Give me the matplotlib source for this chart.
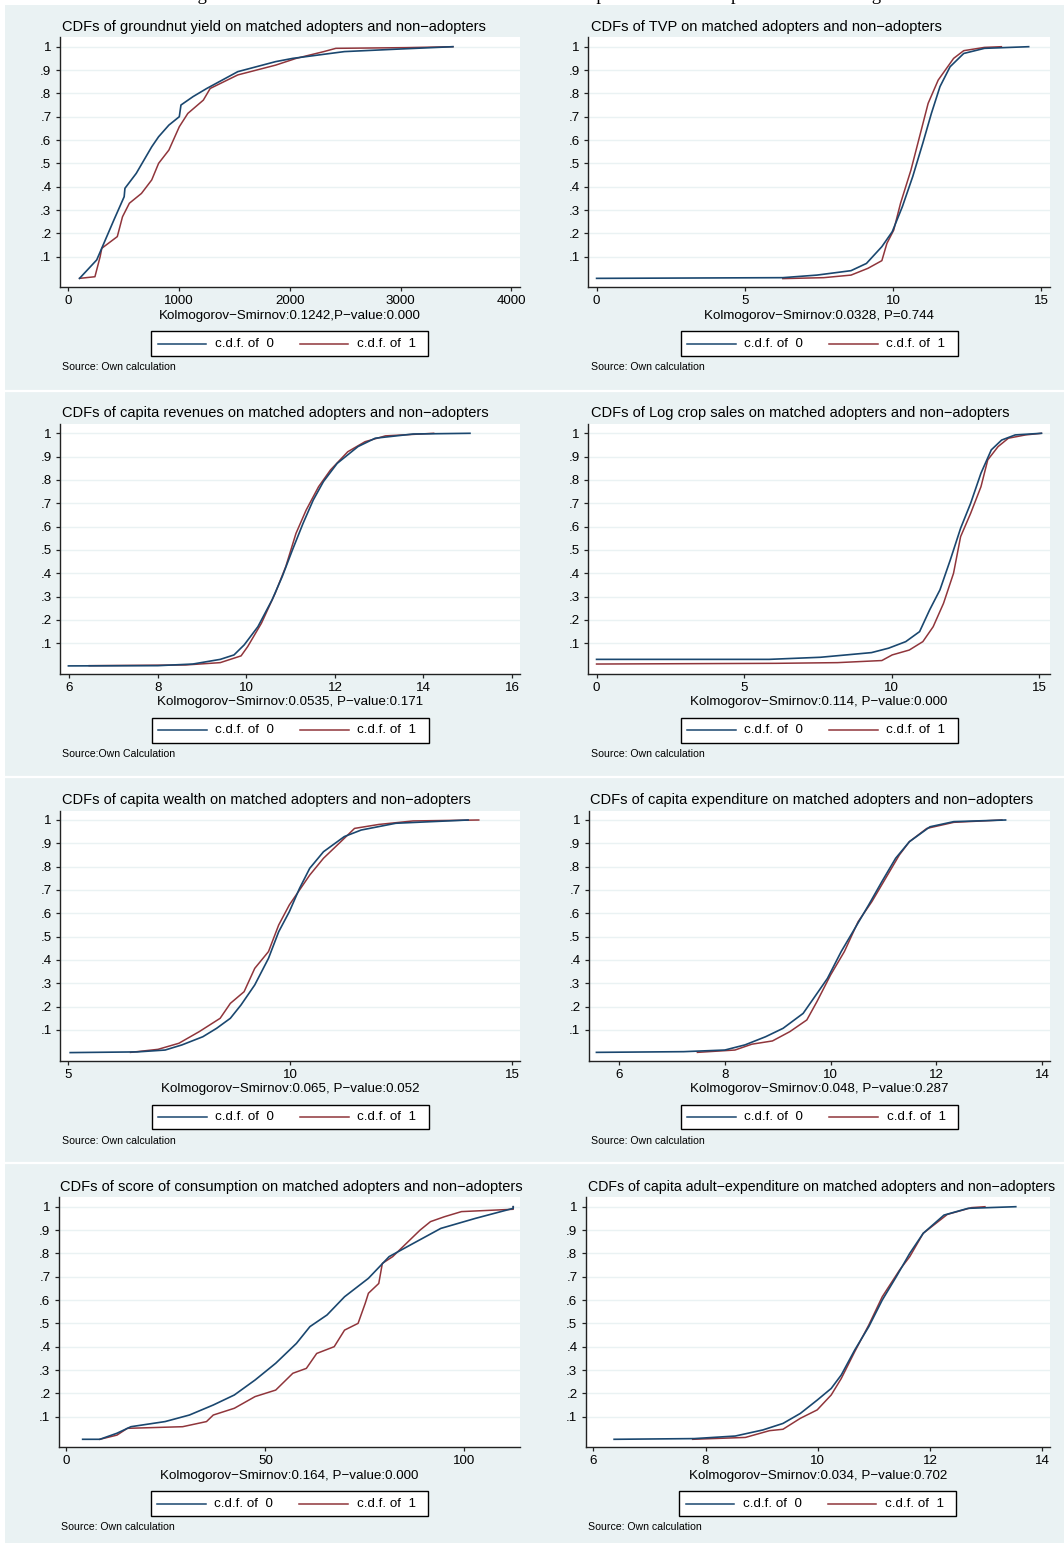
import matplotlib
matplotlib.use("Agg")
import matplotlib.pyplot as plt
from matplotlib.patches import Rectangle
from matplotlib.lines import Line2D

W, H = 1064, 1543
BG = "#EAF2F3"
C0 = "#1A476F"
C1 = "#90353B"
FONT = ["Liberation Sans", "DejaVu Sans"]
plt.rcParams["font.family"] = FONT

# ---------------- data ----------------
yield_x0 = [100, 255, 286, 410, 503, 510, 612, 752, 814, 907, 1001, 1016, 1125, 1249, 1529, 1871, 2026, 2492, 2990, 3472]
yield_F0 = [0.007, 0.086, 0.12, 0.257, 0.357, 0.393, 0.457, 0.571, 0.614, 0.664, 0.70, 0.75, 0.786, 0.821, 0.893, 0.936, 0.95, 0.979, 0.99, 1.0]
yield_x1 = [100, 239, 286, 301, 441, 488, 550, 659, 752, 814, 907, 1001, 1078, 1218, 1280, 1529, 1871, 2057, 2306, 2415, 3052, 3472]
yield_F1 = [0.007, 0.014, 0.10, 0.136, 0.186, 0.271, 0.329, 0.371, 0.429, 0.50, 0.557, 0.657, 0.714, 0.771, 0.821, 0.879, 0.921, 0.95, 0.979, 0.993, 0.996, 1.0]

tvp_x0 = [0, 6.28, 7.43, 8.58, 9.10, 9.62, 9.97, 10.31, 10.66, 11.00, 11.29, 11.58, 11.92, 12.38, 13.08, 14.57]
tvp_F0 = [0.007, 0.010, 0.021, 0.040, 0.071, 0.143, 0.207, 0.314, 0.443, 0.586, 0.714, 0.829, 0.914, 0.971, 0.993, 1.0]
tvp_x1 = [6.28, 7.66, 8.58, 9.15, 9.62, 9.79, 10.02, 10.25, 10.60, 10.89, 11.18, 11.52, 12.04, 12.38, 13.08, 13.65]
tvp_F1 = [0.006, 0.010, 0.021, 0.050, 0.083, 0.157, 0.214, 0.329, 0.471, 0.614, 0.757, 0.857, 0.950, 0.983, 0.997, 1.0]

rev_x0 = [5.98, 8.00, 8.79, 9.41, 9.72, 9.95, 10.26, 10.58, 10.81, 11.04, 11.28, 11.51, 11.74, 12.05, 12.52, 12.91, 13.77, 15.05]
rev_F0 = [0.003, 0.004, 0.011, 0.031, 0.050, 0.093, 0.171, 0.286, 0.386, 0.50, 0.614, 0.714, 0.793, 0.871, 0.943, 0.979, 0.997, 1.0]
rev_x1 = [6.45, 8.63, 9.41, 9.88, 10.03, 10.34, 10.65, 10.89, 11.12, 11.35, 11.63, 11.90, 12.29, 12.68, 13.14, 14.23]
rev_F1 = [0.004, 0.007, 0.017, 0.046, 0.086, 0.186, 0.314, 0.429, 0.571, 0.671, 0.771, 0.843, 0.921, 0.964, 0.989, 1.0]

sales_x0 = [0, 5.85, 7.59, 9.32, 9.90, 10.48, 10.95, 11.29, 11.64, 11.99, 12.34, 12.68, 13.03, 13.38, 13.73, 14.19, 15.08]
sales_F0 = [0.031, 0.031, 0.040, 0.060, 0.079, 0.107, 0.150, 0.243, 0.329, 0.457, 0.593, 0.70, 0.829, 0.929, 0.971, 0.993, 1.0]
sales_x1 = [0, 6.08, 8.17, 9.67, 10.02, 10.60, 11.06, 11.41, 11.76, 12.10, 12.34, 12.68, 13.03, 13.26, 13.61, 13.96, 14.54, 15.08]
sales_F1 = [0.011, 0.014, 0.017, 0.026, 0.050, 0.071, 0.107, 0.171, 0.271, 0.40, 0.557, 0.657, 0.771, 0.886, 0.943, 0.979, 0.993, 1.0]

wealth_x0 = [5.04, 6.55, 7.18, 7.56, 8.03, 8.34, 8.65, 8.89, 9.20, 9.51, 9.74, 9.98, 10.21, 10.44, 10.75, 11.22, 11.60, 12.38, 14.01]
wealth_F0 = [0.003, 0.006, 0.014, 0.036, 0.071, 0.107, 0.150, 0.207, 0.293, 0.407, 0.521, 0.607, 0.707, 0.793, 0.864, 0.929, 0.957, 0.986, 1.0]
wealth_x1 = [6.40, 7.02, 7.49, 7.95, 8.42, 8.65, 8.96, 9.20, 9.51, 9.74, 9.98, 10.21, 10.44, 10.75, 11.14, 11.45, 12.00, 12.77, 14.25]
wealth_F1 = [0.004, 0.017, 0.043, 0.093, 0.150, 0.214, 0.264, 0.364, 0.436, 0.550, 0.636, 0.70, 0.764, 0.836, 0.907, 0.964, 0.981, 0.996, 1.0]

exp_x0 = [5.57, 7.22, 8.00, 8.38, 8.77, 9.10, 9.48, 9.68, 9.94, 10.20, 10.46, 10.72, 10.97, 11.23, 11.49, 11.88, 12.33, 13.31]
exp_F0 = [0.004, 0.007, 0.014, 0.036, 0.071, 0.107, 0.171, 0.236, 0.321, 0.436, 0.536, 0.636, 0.736, 0.836, 0.907, 0.971, 0.993, 1.0]
exp_x1 = [7.48, 8.19, 8.51, 8.90, 9.23, 9.55, 9.74, 10.00, 10.26, 10.52, 10.78, 11.04, 11.30, 11.49, 11.82, 12.33, 13.24]
exp_F1 = [0.004, 0.014, 0.039, 0.053, 0.093, 0.143, 0.221, 0.336, 0.436, 0.564, 0.650, 0.750, 0.850, 0.907, 0.964, 0.990, 1.0]

cons_x0 = [4.07, 8.4, 12.7, 16.2, 24.8, 30.9, 36.9, 42.2, 47.4, 52.6, 57.8, 61.2, 65.5, 69.9, 75.9, 81.1, 87.2, 94.1, 102.8, 112.3, 112.3]
cons_F0 = [0.003, 0.003, 0.029, 0.057, 0.079, 0.107, 0.150, 0.193, 0.257, 0.329, 0.414, 0.486, 0.536, 0.614, 0.693, 0.786, 0.843, 0.907, 0.950, 0.993, 1.0]
cons_x1 = [8.4, 12.7, 15.3, 29.2, 35.2, 36.9, 42.2, 47.4, 52.6, 56.9, 60.3, 62.9, 67.3, 69.9, 73.3, 75.1, 75.9, 78.5, 79.4, 82.0, 84.6, 88.9, 91.5, 95.0, 99.3, 112.3, 112.3]
cons_F1 = [0.003, 0.021, 0.050, 0.057, 0.079, 0.107, 0.136, 0.186, 0.214, 0.286, 0.307, 0.371, 0.40, 0.471, 0.50, 0.586, 0.629, 0.671, 0.757, 0.786, 0.829, 0.90, 0.936, 0.957, 0.979, 0.989, 1.0]

adexp_x0 = [6.37, 7.80, 8.53, 9.02, 9.38, 9.69, 9.99, 10.24, 10.42, 10.66, 10.91, 11.15, 11.40, 11.64, 11.88, 12.25, 12.68, 13.53]
adexp_F0 = [0.003, 0.006, 0.017, 0.043, 0.071, 0.114, 0.171, 0.221, 0.279, 0.386, 0.486, 0.60, 0.70, 0.80, 0.886, 0.964, 0.993, 1.0]
adexp_x1 = [7.77, 8.71, 9.14, 9.38, 9.69, 9.99, 10.24, 10.42, 10.66, 10.91, 11.15, 11.46, 11.64, 11.88, 12.31, 12.74, 12.98]
adexp_F1 = [0.003, 0.011, 0.040, 0.046, 0.093, 0.129, 0.193, 0.264, 0.379, 0.493, 0.614, 0.729, 0.786, 0.886, 0.967, 0.996, 1.0]

titles = [
    "CDFs of groundnut yield on matched adopters and non\u2212adopters",
    "CDFs of TVP on matched adopters and non\u2212adopters",
    "CDFs of capita revenues on matched adopters and non\u2212adopters",
    "CDFs of Log crop sales on matched adopters and non\u2212adopters",
    "CDFs of capita wealth on matched adopters and non\u2212adopters",
    "CDFs of capita expenditure on matched adopters and non\u2212adopters",
    "CDFs of score of consumption on matched adopters and non\u2212adopters",
    "CDFs of capita adult\u2212expenditure on matched adopters and non\u2212adopters",
]
title_sizes = [10.5, 10.5, 10.5, 10.5, 10.5, 10.5, 10.5, 10.15]
ks_labels = [
    "Kolmogorov\u2212Smirnov:0.1242,P\u2212value:0.000",
    "Kolmogorov\u2212Smirnov:0.0328, P=0.744",
    "Kolmogorov\u2212Smirnov:0.0535, P\u2212value:0.171",
    "Kolmogorov\u2212Smirnov:0.114, P\u2212value:0.000",
    "Kolmogorov\u2212Smirnov:0.065, P\u2212value:0.052",
    "Kolmogorov\u2212Smirnov:0.048, P\u2212value:0.287",
    "Kolmogorov\u2212Smirnov:0.164, P\u2212value:0.000",
    "Kolmogorov\u2212Smirnov:0.034, P\u2212value:0.702",
]
sources = [
    "Source: Own calculation", "Source: Own calculation",
    "Source:Own Calculation", "Source: Own calculation",
    "Source: Own calculation", "Source: Own calculation",
    "Source: Own calculation", "Source: Own calculation",
]
xticks_list = [
    [0, 1000, 2000, 3000, 4000],
    [0, 5, 10, 15],
    [6, 8, 10, 12, 14, 16],
    [0, 5, 10, 15],
    [5, 10, 15],
    [6, 8, 10, 12, 14],
    [0, 50, 100],
    [6, 8, 10, 12, 14],
]
xlims = [(-81, 4078), (-0.29, 15.29), (5.79, 16.18), (-0.29, 15.37),
         (4.81, 15.18), (5.42, 14.15), (-2.0, 114.0), (5.86, 14.14)]
yticks = [0.1, 0.2, 0.3, 0.4, 0.5, 0.6, 0.7, 0.8, 0.9, 1.0]
ytick_labels = [".1", ".2", ".3", ".4", ".5", ".6", ".7", ".8", ".9", "1"]
legend_labels = ["c.d.f. of  0", "c.d.f. of  1"]

series = [
    (yield_x0, yield_F0, yield_x1, yield_F1),
    (tvp_x0, tvp_F0, tvp_x1, tvp_F1),
    (rev_x0, rev_F0, rev_x1, rev_F1),
    (sales_x0, sales_F0, sales_x1, sales_F1),
    (wealth_x0, wealth_F0, wealth_x1, wealth_F1),
    (exp_x0, exp_F0, exp_x1, exp_F1),
    (cons_x0, cons_F0, cons_x1, cons_F1),
    (adexp_x0, adexp_F0, adexp_x1, adexp_F1),
]

# ---------------- layout (pixels) ----------------
Y1 = [46.7, 433.3, 820.0, 1206.7]      # pixel row of F = 1 for each row
AX_X = [(59.5, 520), (588, 1050), (60, 520), (588, 1050),
        (60, 520), (588.5, 1050), (58.5, 520), (585.5, 1050)]
TITLE_X = [62, 591, 62, 591, 62, 590, 60.5, 587.5]
SRC_X = [62, 591, 62, 591, 62, 591, 61, 588]
YLO, YHI = -0.031, 1.040
PPU = 233.3  # pixels per unit F

fig = plt.figure(figsize=(W / 100, H / 100), dpi=100, facecolor="white")

def fx(px):
    return px / W

def fy(py):
    return 1 - py / H

# background panel and separators
fig.patches.append(Rectangle((fx(5), 0), 1 - fx(5), fy(5), transform=fig.transFigure,
                             facecolor=BG, edgecolor="none", zorder=-10))
for sep in [391, 777.3, 1163.3]:
    fig.add_artist(Line2D([fx(5), 1], [fy(sep), fy(sep)], color="white", lw=1.6,
                          transform=fig.transFigure))

# figure caption, cut off at the top edge as in the original
fig.text(0.5, 1.0, "Figure 3: Cumulative distributions of outcomes for adopters and non-adopters after matching",
         ha="center", va="baseline", fontsize=13.5, family=["Liberation Serif", "DejaVu Serif"])

for i in range(8):
    row = i // 2
    y1 = Y1[row]
    top = y1 - (YHI - 1) * PPU
    bot = y1 + (1 - YLO) * PPU
    x0, x1 = AX_X[i]
    ax = fig.add_axes([fx(x0), fy(bot), fx(x1) - fx(x0), fy(top) - fy(bot)])
    ax.set_facecolor("white")
    ax.set_xlim(*xlims[i])
    ax.set_ylim(YLO, YHI)
    for s in ["top", "right"]:
        ax.spines[s].set_visible(False)
    for s in ["left", "bottom"]:
        ax.spines[s].set_color("#222222")
        ax.spines[s].set_linewidth(1.0)
    ax.set_yticks(yticks)
    ax.set_yticklabels(ytick_labels)
    ax.set_xticks(xticks_list[i])
    ax.set_xticklabels([str(t) for t in xticks_list[i]])
    ax.tick_params(axis="both", direction="out", length=3.2, width=0.9, color="#222222",
                   labelsize=9.6, pad=2.6)
    ax.grid(axis="y", color=BG, lw=1.0)
    ax.set_axisbelow(True)
    xa, Fa, xb, Fb = series[i]
    ax.plot(xa, Fa, color=C0, lw=1.2, zorder=3)
    ax.plot(xb, Fb, color=C1, lw=1.1, zorder=2)

    cx = (x0 + x1) / 2
    fig.text(fx(TITLE_X[i]), fy(y1 - 20), titles[i], ha="left", va="center", fontsize=title_sizes[i])
    fig.text(fx(cx), fy(y1 + 268.8), ks_labels[i], ha="center", va="center", fontsize=9.66)
    fig.text(fx(SRC_X[i]), fy(y1 + 320.5), sources[i], ha="left", va="center", fontsize=7.6)

    # legend box (Stata style)
    ly = y1 + 297
    btop, bbot = y1 + 284.6, y1 + 309.4
    fig.patches.append(Rectangle((fx(cx - 138.5), fy(bbot)), fx(277.2), fy(btop) - fy(bbot),
                                 transform=fig.transFigure, facecolor="white",
                                 edgecolor="black", lw=1.0, zorder=5))
    for (h0, h1, tx), col, lab in zip([(-132, -83.5, -75), (9.8, 58.5, 67.3)], [C0, C1], legend_labels):
        fig.add_artist(Line2D([fx(cx + h0), fx(cx + h1)], [fy(ly), fy(ly)], color=col, lw=1.1,
                              transform=fig.transFigure, zorder=6))
        fig.text(fx(cx + tx), fy(ly), lab, ha="left", va="center", fontsize=9.66, zorder=6)

fig.savefig("out.png", dpi=100, facecolor=fig.get_facecolor())
